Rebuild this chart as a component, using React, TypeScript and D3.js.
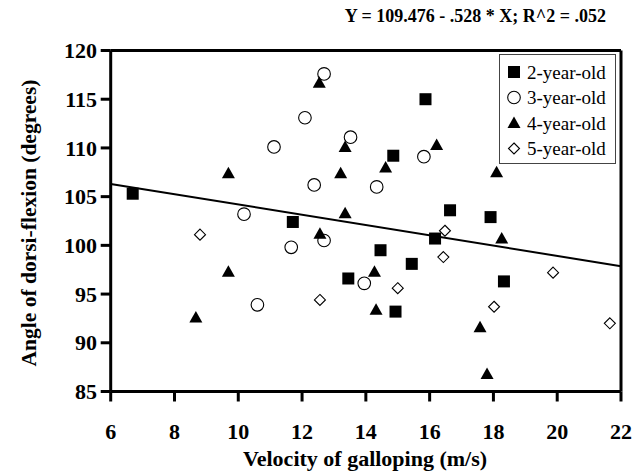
import React from "react";
import * as d3 from "d3";

const xTicks = [6, 8, 10, 12, 14, 16, 18, 20, 22];
const yTicks = [85, 90, 95, 100, 105, 110, 115, 120];

const twoYear: [number, number][] = [
  [6.69, 105.3], [11.71, 102.4], [13.45, 96.6], [14.46, 99.5], [14.86, 109.2],
  [14.93, 93.2], [15.44, 98.1], [15.87, 115.0], [16.17, 100.7], [16.64, 103.6],
  [17.91, 102.9], [18.33, 96.3],
];
const threeYear: [number, number][] = [
  [12.69, 117.6], [12.09, 113.1], [13.52, 111.1], [11.12, 110.1], [15.82, 109.1],
  [12.38, 106.2], [14.34, 106.0], [10.18, 103.2], [12.69, 100.5], [11.66, 99.8],
  [13.95, 96.1], [10.6, 93.9],
];
const fourYear: [number, number][] = [
  [9.69, 107.4], [12.54, 116.7], [13.35, 110.1], [16.22, 110.3], [13.21, 107.4],
  [14.62, 108.0], [9.69, 97.3], [8.67, 92.6], [13.35, 103.3], [12.56, 101.2],
  [14.27, 97.3], [14.32, 93.4], [18.26, 100.7], [17.58, 91.6], [18.1, 107.5],
  [17.8, 86.8],
];
const fiveYear: [number, number][] = [
  [8.8, 101.1], [16.48, 101.5], [16.43, 98.8], [15.0, 95.6], [12.56, 94.4],
  [19.87, 97.2], [18.02, 93.7], [21.65, 92.0],
];
const legendLabels = ["2-year-old", "3-year-old", "4-year-old", "5-year-old"];
const intercept = 109.476;
const slope = -0.528;
const title = "Y = 109.476 - .528 * X; R^2 = .052";

const FONT = '"Liberation Serif", "Times New Roman", Times, "DejaVu Serif", serif';

function Marker({ kind, x, y }: { kind: number; x: number; y: number }) {
  if (kind === 0) return <rect x={x - 6} y={y - 6} width={12} height={12} fill="#000" />;
  if (kind === 1) return <circle cx={x} cy={y} r={6.3} fill="#fff" stroke="#000" strokeWidth={1.1} />;
  if (kind === 2)
    return <path d={`M${x},${y - 6.5} L${x + 6.5},${y + 5} L${x - 6.5},${y + 5} Z`} fill="#000" />;
  return (
    <path
      d={`M${x},${y - 5.5} L${x + 5.5},${y} L${x},${y + 5.5} L${x - 5.5},${y} Z`}
      fill="#fff"
      stroke="#000"
      strokeWidth={1.1}
    />
  );
}

export default function App() {
  const x = d3.scaleLinear().domain([6, 22]).range([110.7, 621]);
  const y = d3.scaleLinear().domain([85, 120]).range([391.5, 50.5]);
  const series = [twoYear, threeYear, fourYear, fiveYear];
  const line = d3.line<number>().x((v) => x(v)).y((v) => y(intercept + slope * v));
  const x0 = x.range()[0];
  const x1 = x.range()[1];
  const y0 = y.range()[0];
  const y1 = y.range()[1];
  const bold = { fontFamily: FONT, fontWeight: 700 as const };
  return (
    <svg
      width={632}
      height={473}
      style={{ position: "absolute", left: 0, top: 0, background: "#fff", fontFamily: FONT }}
    >
      <rect x={0} y={0} width={632} height={473} fill="#fff" />
      <text x={606} y={22} textAnchor="end" style={bold} fontSize={18}>
        {title}
      </text>
      <line x1={x0} x2={x1} y1={y1} y2={y1} stroke="#000" strokeWidth={3} />
      <line x1={x1} x2={x1} y1={y1} y2={y0} stroke="#000" strokeWidth={3} />
      <path d={line([6, 22]) || ""} fill="none" stroke="#000" strokeWidth={2} />
      {series.map((s, k) =>
        s.map((p, i) => <Marker key={`${k}-${i}`} kind={k} x={x(p[0])} y={y(p[1])} />)
      )}
      <line x1={x0} x2={x1} y1={y0} y2={y0} stroke="#000" strokeWidth={3} />
      <line x1={x0} x2={x0} y1={y1} y2={y0} stroke="#000" strokeWidth={3} />
      {yTicks.map((t) => (
        <g key={`y${t}`}>
          <line x1={x0 - 10} x2={x0} y1={y(t)} y2={y(t)} stroke="#000" strokeWidth={3} />
          <text x={97} y={y(t)} dy="0.35em" textAnchor="end" style={bold} fontSize={22}>
            {t}
          </text>
        </g>
      ))}
      {xTicks.map((t) => (
        <g key={`x${t}`}>
          <line x1={x(t)} x2={x(t)} y1={y0} y2={y0 + 10} stroke="#000" strokeWidth={3} />
          <text x={x(t)} y={439} textAnchor="middle" style={bold} fontSize={22}>
            {t}
          </text>
        </g>
      ))}
      <text x={365} y={466} textAnchor="middle" style={bold} fontSize={22}>
        Velocity of galloping (m/s)
      </text>
      <text
        transform={`translate(36,${223}) rotate(-90)`}
        textAnchor="middle"
        style={bold}
        fontSize={21.5}
      >
        Angle of dorsi-flexion (degrees)
      </text>
      <rect x={499.5} y={54.5} width={116} height={109} fill="#fff" stroke="#444" strokeWidth={1} />
      {legendLabels.map((l, i) => (
        <g key={l}>
          <Marker kind={i} x={514} y={72 + i * 25.5} />
          <text x={527} y={72 + i * 25.5} dy="0.35em" style={{ fontFamily: FONT }} fontSize={19}>
            {l}
          </text>
        </g>
      ))}
    </svg>
  );
}
